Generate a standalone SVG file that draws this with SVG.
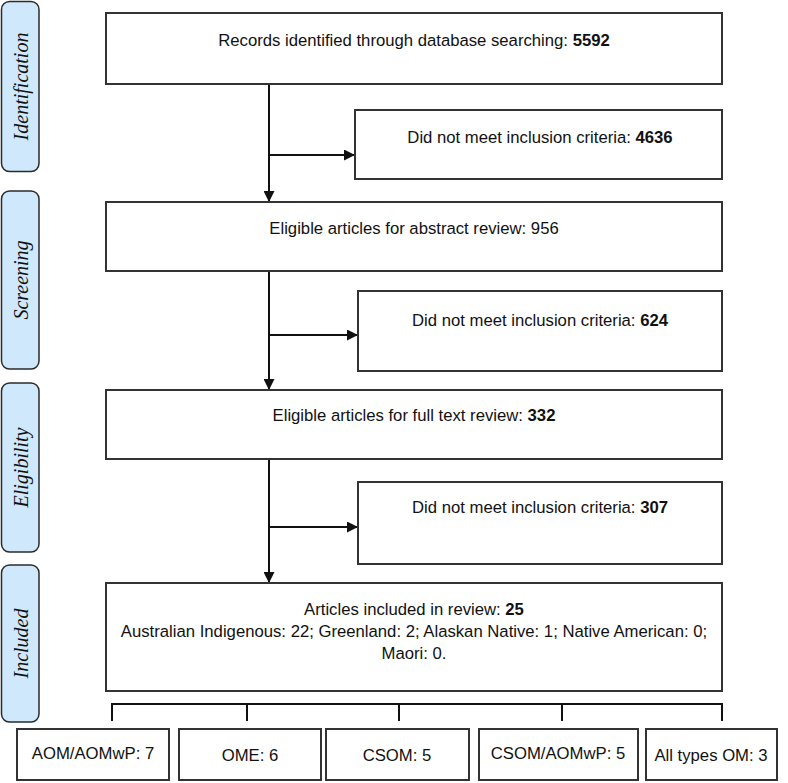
<svg xmlns="http://www.w3.org/2000/svg" width="788" height="783" viewBox="0 0 788 783">
<style>
.stage{fill:#cfe8fb;stroke:#2b2b2b;stroke-width:1.5}
.stxt{font-family:"Liberation Serif",serif;font-style:italic;font-size:20px;fill:#111;text-anchor:middle}
.box{fill:#fff;stroke:#333;stroke-width:2}
.t{font-family:"Liberation Sans",Arial,sans-serif;font-size:16.7px;fill:#111;text-anchor:middle}
.b{font-weight:bold}
.ln{stroke:#111;stroke-width:2;fill:none}
</style>
<defs>
<marker id="ah" viewBox="0 0 10 10" refX="10" refY="5" markerWidth="6" markerHeight="5.5" orient="auto" markerUnits="strokeWidth">
<path d="M0,0 L10,5 L0,10 z" fill="#111"/>
</marker>
</defs>
<rect width="788" height="783" fill="#fff"/>
<g id="stage-identification"><rect class="stage" x="1.5" y="1.5" width="37.5" height="170" rx="8"/><text class="stxt" transform="translate(28,86.5) rotate(-90)">Identification</text></g>
<g id="stage-screening"><rect class="stage" x="1.5" y="191" width="37.5" height="178" rx="8"/><text class="stxt" transform="translate(28,280) rotate(-90)">Screening</text></g>
<g id="stage-eligibility"><rect class="stage" x="1.5" y="383" width="37.5" height="169" rx="8"/><text class="stxt" transform="translate(28,467.5) rotate(-90)">Eligibility</text></g>
<g id="stage-included"><rect class="stage" x="1.5" y="565" width="37.5" height="157" rx="8"/><text class="stxt" transform="translate(28,643.5) rotate(-90)">Included</text></g>

<g id="connectors">
<line class="ln" x1="269" y1="84" x2="269" y2="202" marker-end="url(#ah)"/>
<line class="ln" x1="269" y1="155" x2="355" y2="155" marker-end="url(#ah)"/>
<line class="ln" x1="269" y1="271" x2="269" y2="390" marker-end="url(#ah)"/>
<line class="ln" x1="269" y1="335" x2="358" y2="335" marker-end="url(#ah)"/>
<line class="ln" x1="269" y1="459" x2="269" y2="583" marker-end="url(#ah)"/>
<line class="ln" x1="269" y1="527" x2="358" y2="527" marker-end="url(#ah)"/>
<path class="ln" d="M112,721 V704 H722 V721 M247,704 V721 M399,704 V721 M562,704 V721"/>
</g>

<g id="records"><rect class="box" x="106" y="13" width="616" height="71"/><text class="t" x="414" y="46">Records identified through database searching: <tspan class="b">5592</tspan></text></g>
<g id="excluded-1"><rect class="box" x="355" y="110" width="367" height="69"/><text class="t" x="540" y="143">Did not meet inclusion criteria: <tspan class="b">4636</tspan></text></g>
<g id="abstract"><rect class="box" x="106" y="202" width="616" height="69"/><text class="t" x="414" y="234">Eligible articles for abstract review: 956</text></g>
<g id="excluded-2"><rect class="box" x="358" y="291" width="364" height="80"/><text class="t" x="540" y="326">Did not meet inclusion criteria: <tspan class="b">624</tspan></text></g>
<g id="fulltext"><rect class="box" x="106" y="390" width="616" height="69"/><text class="t" x="414" y="421">Eligible articles for full text review: <tspan class="b">332</tspan></text></g>
<g id="excluded-3"><rect class="box" x="358" y="482" width="364" height="82"/><text class="t" x="540" y="513">Did not meet inclusion criteria: <tspan class="b">307</tspan></text></g>
<g id="included"><rect class="box" x="106" y="583" width="616" height="108"/>
<text class="t" x="414" y="615">Articles included in review: <tspan class="b">25</tspan></text>
<text class="t" x="414" y="637">Australian Indigenous: 22; Greenland: 2; Alaskan Native: 1; Native American: 0;</text>
<text class="t" x="414" y="659">Maori: 0.</text></g>

<g id="type-aom"><rect class="box" x="17" y="729" width="152" height="51" stroke-width="1.5"/><text class="t" x="93" y="759">AOM/AOMwP: 7</text></g>
<g id="type-ome"><rect class="box" x="179" y="729" width="142" height="51" stroke-width="1.5"/><text class="t" x="250" y="761">OME: 6</text></g>
<g id="type-csom"><rect class="box" x="326" y="729" width="143" height="51" stroke-width="1.5"/><text class="t" x="397" y="761">CSOM: 5</text></g>
<g id="type-csom-aomwp"><rect class="box" x="479" y="729" width="159" height="51" stroke-width="1.5"/><text class="t" x="558" y="759">CSOM/AOMwP: 5</text></g>
<g id="type-all"><rect class="box" x="646" y="729" width="131" height="51" stroke-width="1.5"/><text class="t" x="711" y="761">All types OM: 3</text></g>
</svg>
